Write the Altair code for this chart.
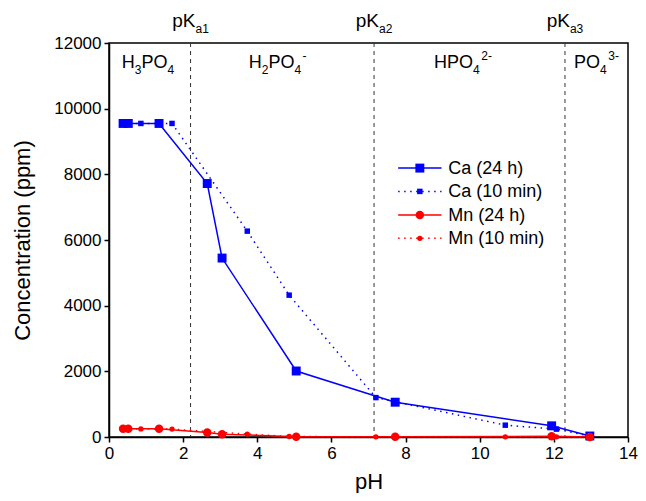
import altair as alt
import pandas as pd

# ---------------- data ----------------
ca24_ph = [0.38, 0.52, 1.35, 2.65, 3.05, 5.05, 7.72, 11.94, 12.97]
ca24_c = [9550, 9550, 9550, 7720, 5450, 2010, 1060, 340, 30]
ca10_ph = [0.40, 0.86, 1.70, 3.73, 4.86, 7.20, 10.69, 12.07, 12.97]
ca10_c = [9550, 9550, 9550, 6270, 4320, 1200, 360, 240, 30]
mn24_ph = [0.38, 0.52, 1.35, 2.65, 3.05, 5.05, 7.72, 11.94, 12.97]
mn24_c = [250, 250, 250, 140, 85, 10, 10, 20, 0]
mn10_ph = [0.40, 0.86, 1.70, 3.73, 4.86, 7.20, 10.69, 12.07, 12.97]
mn10_c = [250, 245, 240, 90, 15, 5, 5, 5, 0]

series_names = ["Ca (24 h)", "Ca (10 min)", "Mn (24 h)", "Mn (10 min)"]
series_colors = ["#0000FF", "#0000FF", "#FF0000", "#FF0000"]
series_shapes = ["square", "square", "circle", "circle"]
series_sizes = [80, 30, 72, 28]
series_dash = [None, [1.5, 4.5], None, [1.5, 4.5]]

pka_values = [2.2, 7.15, 12.3]
pka_labels = [[("pK", "n"), ("a1", "b")], [("pK", "n"), ("a2", "b")], [("pK", "n"), ("a3", "b")]]
region_x = [1.05, 4.55, 9.55, 13.15]
region_labels = [
    [("H", "n"), ("3", "b"), ("PO", "n"), ("4", "b")],
    [("H", "n"), ("2", "b"), ("PO", "n"), ("4", "b"), ("-", "p")],
    [("HPO", "n"), ("4", "b"), ("2-", "p")],
    [("PO", "n"), ("4", "b"), ("3-", "p")],
]
region_y = 11250

# legend placement (in chart units)
legend_line_x = [7.8, 8.97]
legend_label_x = 9.15
legend_rows_y = [8190, 7480, 6760, 6050]

x_ticks = [0, 2, 4, 6, 8, 10, 12, 14]
y_ticks = [0, 2000, 4000, 6000, 8000, 10000, 12000]

FONT = "Liberation Sans"

# ---------------- tables ----------------
frames = []
for name, xs, ys in zip(series_names, [ca24_ph, ca10_ph, mn24_ph, mn10_ph], [ca24_c, ca10_c, mn24_c, mn10_c]):
    frames.append(pd.DataFrame({"pH": xs, "conc": ys, "series": name}))
df = pd.concat(frames, ignore_index=True)

xscale = alt.Scale(domain=[0, 14], nice=False, zero=False)
yscale = alt.Scale(domain=[0, 12000], nice=False)
X = alt.X("pH:Q", scale=xscale, axis=alt.Axis(values=x_ticks, title="pH", titlePadding=10, labelFlush=False))
Y = alt.Y("conc:Q", scale=yscale, axis=alt.Axis(values=y_ticks, format="d", title="Concentration (ppm)", titlePadding=19, labelFlush=False))
XP = alt.X("pH:Q", scale=xscale)
YP = alt.Y("conc:Q", scale=yscale)
colorenc = alt.Color("series:N", scale=alt.Scale(domain=series_names, range=series_colors), legend=None)

layers = []

# pKa dashed lines
pka_df = pd.DataFrame({"pH": pka_values})
layers.append(
    alt.Chart(pka_df).mark_rule(color="#333333", strokeDash=[4, 4], strokeWidth=1).encode(x=XP)
)

def sub(name):
    return alt.datum.series == name

# data lines
for name, dash in zip(series_names, series_dash):
    kw = dict(strokeWidth=1.5)
    if dash:
        kw["strokeDash"] = dash
    layers.append(
        alt.Chart(df).transform_filter(sub(name)).mark_line(**kw).encode(x=X, y=Y, color=colorenc, order="pH:Q")
    )

# data points
for name, shape, size in zip(series_names, series_shapes, series_sizes):
    layers.append(
        alt.Chart(df).transform_filter(sub(name)).mark_point(filled=True, shape=shape, size=size, opacity=1).encode(
            x=XP, y=YP, color=colorenc
        )
    )

# legend (drawn as marks)
for i, name in enumerate(series_names):
    ly = legend_rows_y[i]
    seg = pd.DataFrame({"x1": [legend_line_x[0]], "x2": [legend_line_x[1]], "conc": [ly], "series": [name]})
    kw = dict(strokeWidth=1.5)
    if series_dash[i]:
        kw["strokeDash"] = series_dash[i]
    layers.append(
        alt.Chart(seg).mark_rule(**kw).encode(
            x=alt.X("x1:Q", scale=xscale), x2="x2:Q", y=YP, color=colorenc
        )
    )
    pt = pd.DataFrame({"pH": [sum(legend_line_x) / 2], "conc": [ly], "series": [name]})
    layers.append(
        alt.Chart(pt).mark_point(filled=True, shape=series_shapes[i], size=series_sizes[i], opacity=1).encode(
            x=XP, y=YP, color=colorenc
        )
    )
    tx = pd.DataFrame({"pH": [legend_label_x], "conc": [ly], "txt": [name]})
    layers.append(
        alt.Chart(tx).mark_text(align="left", baseline="middle", font=FONT, fontSize=18, color="black", dy=1).encode(
            x=XP, y=YP, text="txt:N"
        )
    )

# text labels with sub/superscripts built from pieces
WID = {"H": .722, "P": .667, "O": .778, "p": .556, "K": .667, "a": .556, "-": .333}
def wid(s, size):
    return sum(WID.get(ch, .556) for ch in s) * size

def piece_layers(parts, xval, yval, base_size, small_size, base_dy):
    widths = []
    for t, k in parts:
        widths.append(wid(t, base_size if k == "n" else small_size) + (1.5 if k == "p" else 0))
    total = sum(widths)
    cur = -total / 2
    out = []
    for (t, k), w in zip(parts, widths):
        size = base_size if k == "n" else small_size
        dy = base_dy + (6 if k == "b" else (-8 if k == "p" else 0))
        dx = cur + (1.5 if k == "p" else 0)
        d = pd.DataFrame({"pH": [xval], "conc": [yval], "txt": [t]})
        out.append(
            alt.Chart(d).mark_text(align="left", baseline="alphabetic", font=FONT, fontSize=size, dx=dx, dy=dy, color="black").encode(
                x=XP, y=YP, text="txt:N"
            )
        )
        cur += w
    return out

for parts, xv in zip(pka_labels, pka_values):
    layers += piece_layers(parts, xv, 12000, 19, 12, -16)
for parts, xv in zip(region_labels, region_x):
    layers += piece_layers(parts, xv, region_y, 18, 12, 0)

chart = alt.layer(*layers).properties(
    width=519, height=394,
    autosize=alt.AutoSizeParams(type="none"),
    padding={"left": 101, "top": 35, "right": 10, "bottom": 56},
).configure_view(stroke="black", strokeWidth=1.5).configure_axis(
    grid=False, labelFont=FONT, labelFontSize=17, labelColor="black", titleFont=FONT, titleFontSize=22,
    titleFontWeight="normal", titleColor="black", tickColor="black", domainColor="black", tickSize=5,
    domainWidth=1.5, tickWidth=1.5, labelPadding=3,
)

chart.save("out.html", embed_options={"renderer": "svg", "actions": False})
